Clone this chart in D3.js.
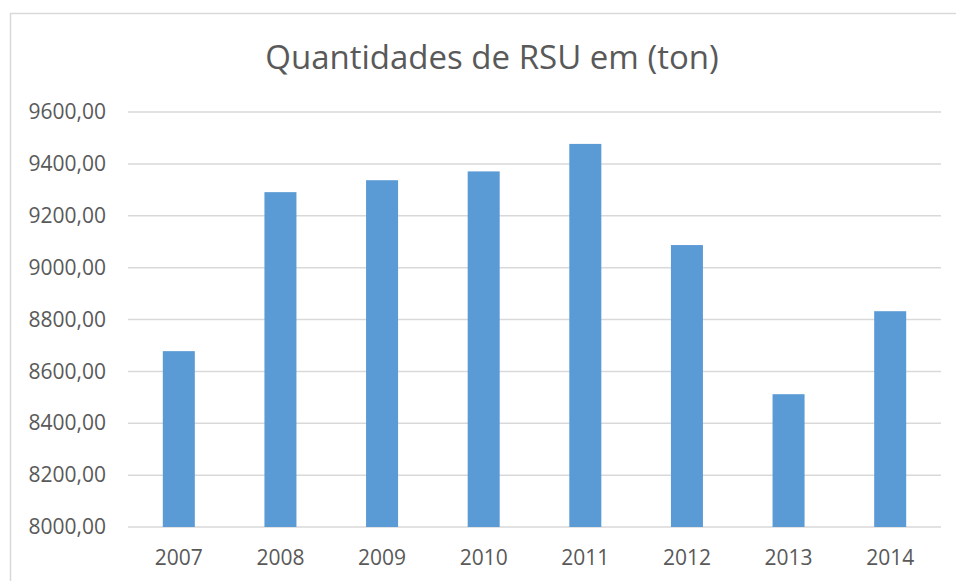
<!DOCTYPE html>
<html><head><meta charset="utf-8">
<script src="https://cdn.jsdelivr.net/npm/d3@7"></script>
<style>body{margin:0;background:#fff}svg{display:block}</style>
</head><body>
<svg id="c" width="956" height="581"></svg>
<script>
const categories = ["2007","2008","2009","2010","2011","2012","2013","2014"];
const values = [8678, 9291, 9337, 9371, 9477, 9087, 8512, 8832];
const yTicks = [8000, 8200, 8400, 8600, 8800, 9000, 9200, 9400, 9600];
const title = "Quantidades de RSU em (ton)";

const svg = d3.select("#c");
const font = "'Open Sans', sans-serif";
svg.append("rect").attr("x",10.5).attr("y",13.5).attr("width",960).attr("height",600)
  .attr("fill","#fff").attr("stroke","#d9d9d9").attr("stroke-width",1.5);

const x = d3.scaleBand().domain(categories).range([128,941]).padding(0);
const y = d3.scaleLinear().domain([8000,9600]).range([527,112]);

const grid = svg.append("g");
grid.selectAll("line").data(yTicks).join("line")
  .attr("x1",128).attr("x2",941).attr("y1",d=>y(d)).attr("y2",d=>y(d))
  .attr("stroke","#d9d9d9").attr("stroke-width",1.5);

const fmt = d => d3.format(".2f")(d).replace(".",",");
const yAxis = d3.axisLeft(y).tickValues(yTicks).tickFormat(fmt).tickSize(0).tickPadding(22);
const ya = svg.append("g").attr("transform","translate(128,0)").call(yAxis);
ya.select(".domain").remove();
ya.selectAll("text").attr("fill","#595959").style("font-family",font).style("font-size","21px");

const bw = x.bandwidth()*0.315;
svg.append("g").selectAll("rect").data(values).join("rect")
  .attr("x",(d,i)=>x(categories[i])+x.bandwidth()/2-bw/2)
  .attr("width",bw)
  .attr("y",d=>y(d)).attr("height",d=>y(8000)-y(d))
  .attr("fill","#5b9bd5");

const xAxis = d3.axisBottom(x).tickSize(0).tickPadding(23);
const xa = svg.append("g").attr("transform","translate(0,527)").call(xAxis);
xa.select(".domain").remove();
xa.selectAll("text").attr("fill","#595959").style("font-family",font).style("font-size","21px");

svg.append("text").attr("x",492).attr("y",69).attr("text-anchor","middle")
  .attr("fill","#595959").style("font-family",font).style("font-size","33px").text(title);
</script>
</body></html>
